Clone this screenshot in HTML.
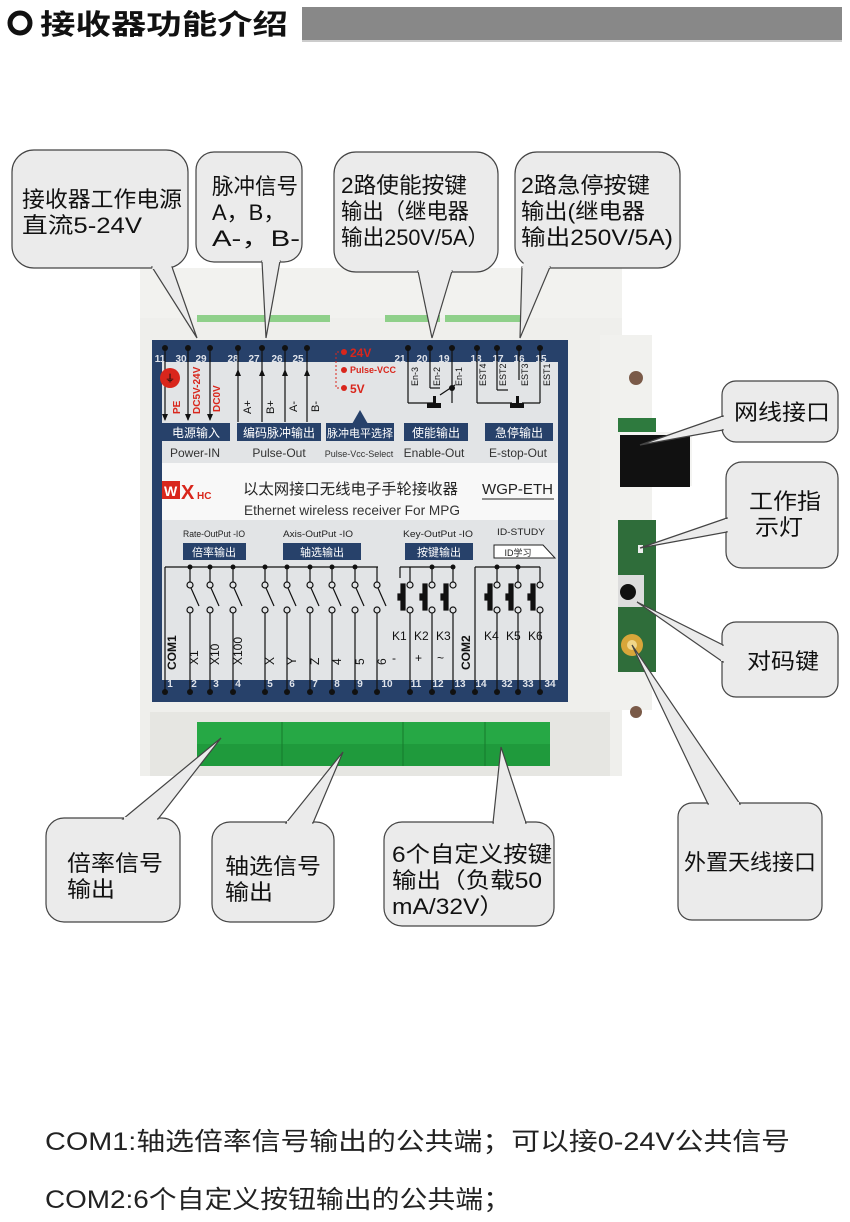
<!DOCTYPE html>
<html><head><meta charset="utf-8"><style>
html,body{margin:0;padding:0;background:#fff;}
svg{display:block;}
text{font-family:"Liberation Sans","Noto Sans CJK SC",sans-serif;}
</style></head><body>
<svg width="850" height="1222" viewBox="0 0 850 1222" xmlns="http://www.w3.org/2000/svg">
<!-- header -->
<circle cx="20" cy="23" r="10" fill="none" stroke="#111" stroke-width="5"/>
<text x="40" y="34" font-size="28" font-weight="bold" fill="#111" textLength="248" lengthAdjust="spacingAndGlyphs">接收器功能介绍</text>
<rect x="302" y="7" width="540" height="34" fill="#888"/>
<rect x="302" y="40" width="540" height="2" fill="#ccc"/>

<!-- housing -->
<rect x="140" y="268" width="482" height="508" fill="#efefec"/>
<rect x="140" y="268" width="482" height="50" fill="#f2f2ef"/>
<rect x="197" y="315" width="133" height="7" fill="#8fd08a"/>
<rect x="385" y="315" width="55" height="7" fill="#8fd08a"/>
<rect x="445" y="315" width="75" height="7" fill="#8fd08a"/>
<rect x="150" y="712" width="460" height="64" fill="#e6e6e2"/>
<rect x="197" y="722" width="353" height="44" fill="#1f9a3c"/>
<rect x="197" y="722" width="353" height="22" fill="#26a845"/>
<line x1="282" y1="722" x2="282" y2="766" stroke="#157a2c"/>
<line x1="403" y1="722" x2="403" y2="766" stroke="#157a2c"/>
<line x1="485" y1="722" x2="485" y2="766" stroke="#157a2c"/>
<!-- right ear -->
<rect x="600" y="335" width="52" height="375" fill="#f1f1ee"/>
<circle cx="636" cy="378" r="7" fill="#7a5a48"/>
<circle cx="636" cy="712" r="6" fill="#7a5a48"/>
<rect x="618" y="418" width="38" height="14" fill="#2e7a3e"/>
<rect x="620" y="432" width="72" height="54" fill="#f4f4f2"/>
<rect x="620" y="435" width="70" height="52" fill="#111"/>
<rect x="618" y="520" width="38" height="152" fill="#2f6d3a"/>
<rect x="618" y="575" width="26" height="32" fill="#ddd"/>
<circle cx="628" cy="592" r="8" fill="#111"/>
<circle cx="632" cy="645" r="11" fill="#d8a63a"/>
<circle cx="632" cy="645" r="5" fill="#f0d68a"/>
<rect x="638" y="545" width="5" height="8" fill="#eee"/>

<!-- blue panel -->
<rect x="152" y="340" width="416" height="362" fill="#27416a"/>
<rect x="162" y="362" width="396" height="318" fill="#e2e4e6"/>
<rect x="162" y="463" width="396" height="57" fill="#f8f8f8"/>

<!-- top pin dots & numbers -->
<g fill="#111">
<circle cx="165" cy="348" r="3"/><circle cx="188" cy="348" r="3"/><circle cx="210" cy="348" r="3"/>
<circle cx="238" cy="348" r="3"/><circle cx="262" cy="348" r="3"/><circle cx="285" cy="348" r="3"/><circle cx="307" cy="348" r="3"/>
<circle cx="408" cy="348" r="3"/><circle cx="430" cy="348" r="3"/><circle cx="452" cy="348" r="3"/>
<circle cx="477" cy="348" r="3"/><circle cx="497" cy="348" r="3"/><circle cx="519" cy="348" r="3"/><circle cx="540" cy="348" r="3"/>
</g>
<g fill="#dfe3ea" font-size="10" font-weight="bold" text-anchor="middle">
<text x="160" y="362">11</text><text x="181" y="362">30</text><text x="201" y="362">29</text>
<text x="233" y="362">28</text><text x="254" y="362">27</text><text x="277" y="362">26</text><text x="298" y="362">25</text>
<text x="400" y="362">21</text><text x="422" y="362">20</text><text x="444" y="362">19</text>
<text x="476" y="362">18</text><text x="498" y="362">17</text><text x="519" y="362">16</text><text x="541" y="362">15</text>
</g>
<g stroke="#111" stroke-width="1.2">
<line x1="165" y1="348" x2="165" y2="420"/><line x1="188" y1="348" x2="188" y2="420"/><line x1="210" y1="348" x2="210" y2="420"/>
<line x1="238" y1="348" x2="238" y2="422"/><line x1="262" y1="348" x2="262" y2="422"/><line x1="285" y1="348" x2="285" y2="422"/><line x1="307" y1="348" x2="307" y2="422"/>
<line x1="408" y1="348" x2="408" y2="403"/><line x1="408" y1="403" x2="433" y2="403"/>
<line x1="430" y1="348" x2="430" y2="388"/><line x1="430" y1="388" x2="440" y2="388"/>
<line x1="452" y1="348" x2="452" y2="403"/><line x1="440" y1="395" x2="455" y2="385"/>
<line x1="477" y1="348" x2="477" y2="403"/><line x1="477" y1="403" x2="512" y2="403"/>
<line x1="497" y1="348" x2="497" y2="390"/><line x1="497" y1="390" x2="508" y2="390"/>
<line x1="540" y1="348" x2="540" y2="403"/><line x1="522" y1="403" x2="540" y2="403"/>
<line x1="519" y1="348" x2="519" y2="380"/>
</g>
<rect x="427" y="403" width="14" height="5" fill="#111"/><rect x="433" y="396" width="3" height="8" fill="#111"/>
<rect x="510" y="403" width="14" height="5" fill="#111"/><rect x="516" y="396" width="3" height="8" fill="#111"/>
<circle cx="452" cy="388" r="3" fill="#111"/>
<g fill="#111">
<polygon points="162,414 168,414 165,421"/><polygon points="185,414 191,414 188,421"/><polygon points="207,414 213,414 210,421"/>
<polygon points="235,376 241,376 238,369"/><polygon points="259,376 265,376 262,369"/><polygon points="282,376 288,376 285,369"/><polygon points="304,376 310,376 307,369"/>
</g>
<circle cx="170" cy="378" r="10" fill="#d9261c"/>
<text x="170" y="382" font-size="10" fill="#111" text-anchor="middle" font-weight="bold">⏚</text>
<g font-size="10" font-weight="bold" fill="#d9261c">
<text transform="translate(180,414) rotate(-90)">PE</text>
<text transform="translate(200,414) rotate(-90)">DC5V-24V</text>
<text transform="translate(220,412) rotate(-90)">DC0V</text>
</g>
<g font-size="11" fill="#111">
<text transform="translate(251,414) rotate(-90)">A+</text>
<text transform="translate(274,414) rotate(-90)">B+</text>
<text transform="translate(297,412) rotate(-90)">A-</text>
<text transform="translate(319,412) rotate(-90)">B-</text>
<text transform="translate(418,386) rotate(-90)" font-size="9">En-3</text>
<text transform="translate(440,386) rotate(-90)" font-size="9">En-2</text>
<text transform="translate(462,386) rotate(-90)" font-size="9">En-1</text>
<text transform="translate(486,386) rotate(-90)" font-size="9">EST4</text>
<text transform="translate(506,386) rotate(-90)" font-size="9">EST2</text>
<text transform="translate(528,386) rotate(-90)" font-size="9">EST3</text>
<text transform="translate(550,386) rotate(-90)" font-size="9">EST1</text>
</g>
<polyline points="343,352 336,352 336,388 343,388" fill="none" stroke="#d9261c" stroke-dasharray="2,2"/>
<g fill="#d9261c"><circle cx="344" cy="352" r="3"/><circle cx="344" cy="370" r="3"/><circle cx="344" cy="388" r="3"/></g>
<g fill="#d9261c" font-weight="bold">
<text x="350" y="357" font-size="12">24V</text><text x="350" y="373" font-size="9">Pulse-VCC</text><text x="350" y="393" font-size="12">5V</text>
</g>
<polygon points="352,424 368,424 360,410" fill="#27416a"/>
<!-- label boxes -->
<g fill="#27416a">
<rect x="162" y="423" width="68" height="18"/><rect x="237" y="423" width="84" height="18"/>
<rect x="326" y="423" width="68" height="18"/><rect x="404" y="423" width="64" height="18"/><rect x="485" y="423" width="68" height="18"/>
</g>
<g fill="#fff" font-size="12" text-anchor="middle">
<text x="196" y="437">电源输入</text><text x="279" y="437">编码脉冲输出</text>
<text x="360" y="437" font-size="11">脉冲电平选择</text><text x="436" y="437">使能输出</text><text x="519" y="437">急停输出</text>
</g>
<g fill="#333" font-size="12" text-anchor="middle">
<text x="195" y="457">Power-IN</text><text x="279" y="457">Pulse-Out</text>
<text x="359" y="457" font-size="9">Pulse-Vcc-Select</text><text x="434" y="457">Enable-Out</text><text x="518" y="457">E-stop-Out</text>
</g>
<!-- logo band -->
<rect x="162" y="481" width="18" height="18" fill="#d9261c"/>
<text x="164" y="496" font-size="14" font-weight="bold" fill="#fff">W</text>
<text x="181" y="499" font-size="20" font-weight="bold" fill="#d9261c">X</text>
<text x="197" y="499" font-size="10" font-weight="bold" fill="#d9261c">HC</text>
<text x="243" y="494" font-size="15" fill="#222" textLength="215" lengthAdjust="spacingAndGlyphs">以太网接口无线电子手轮接收器</text>
<text x="244" y="515" font-size="14" fill="#333" textLength="216" lengthAdjust="spacingAndGlyphs">Ethernet wireless receiver For MPG</text>
<text x="482" y="494" font-size="15" fill="#222" textLength="71" lengthAdjust="spacingAndGlyphs">WGP-ETH</text>
<line x1="482" y1="499" x2="554" y2="499" stroke="#222"/>
<!-- lower labels -->
<g font-size="9" fill="#222">
<text x="183" y="537" textLength="62" lengthAdjust="spacingAndGlyphs">Rate-OutPut -IO</text>
<text x="283" y="537" textLength="70" lengthAdjust="spacingAndGlyphs">Axis-OutPut -IO</text>
<text x="403" y="537" textLength="70" lengthAdjust="spacingAndGlyphs">Key-OutPut -IO</text>
<text x="497" y="535" textLength="48" lengthAdjust="spacingAndGlyphs">ID-STUDY</text>
</g>
<g fill="#27416a"><rect x="183" y="543" width="63" height="17"/><rect x="283" y="543" width="78" height="17"/><rect x="405" y="543" width="68" height="17"/></g>
<g fill="#fff" font-size="11" text-anchor="middle"><text x="214" y="556">倍率输出</text><text x="322" y="556">轴选输出</text><text x="439" y="556">按键输出</text></g>
<path d="M494,545 H543 L555,558 H494 Z" fill="#fff" stroke="#222"/>
<text x="518" y="556" font-size="9" text-anchor="middle" fill="#222">ID学习</text>
<!-- switches -->
<g stroke="#111" stroke-width="1.2" fill="none">
<line x1="165" y1="567" x2="378" y2="567"/>
<line x1="165" y1="567" x2="165" y2="690"/>
<line x1="400" y1="567" x2="453" y2="567"/><line x1="400" y1="567" x2="400" y2="578"/>
<line x1="475" y1="567" x2="475" y2="690"/><line x1="475" y1="567" x2="540" y2="567"/>
</g>
<g id="sw" stroke="#111" stroke-width="1.2" fill="#e2e4e6">
<line x1="190" y1="567" x2="190" y2="582"/><circle cx="190" cy="585" r="3"/><line x1="191" y1="588" x2="199" y2="606"/><circle cx="190" cy="610" r="3"/><line x1="190" y1="613" x2="190" y2="690"/>
</g>
<use href="#sw" x="20"/><use href="#sw" x="43"/><use href="#sw" x="75"/><use href="#sw" x="97"/><use href="#sw" x="120"/><use href="#sw" x="142"/><use href="#sw" x="165"/><use href="#sw" x="187"/>
<g id="pb" stroke="#111" stroke-width="1.2" fill="#e2e4e6">
<line x1="410" y1="567" x2="410" y2="582"/><circle cx="410" cy="585" r="3"/><circle cx="410" cy="610" r="3"/><line x1="410" y1="613" x2="410" y2="690"/>
<rect x="401" y="584" width="4" height="26" fill="#111"/><rect x="398" y="594" width="3" height="6" fill="#111"/>
</g>
<use href="#pb" x="22"/><use href="#pb" x="43"/><use href="#pb" x="87"/><use href="#pb" x="108"/><use href="#pb" x="130"/>
<g fill="#111">
<circle cx="190" cy="567" r="2.5"/><circle cx="210" cy="567" r="2.5"/><circle cx="233" cy="567" r="2.5"/><circle cx="265" cy="567" r="2.5"/><circle cx="287" cy="567" r="2.5"/><circle cx="310" cy="567" r="2.5"/><circle cx="332" cy="567" r="2.5"/><circle cx="355" cy="567" r="2.5"/>
<circle cx="432" cy="567" r="2.5"/><circle cx="453" cy="567" r="2.5"/><circle cx="497" cy="567" r="2.5"/><circle cx="518" cy="567" r="2.5"/>
</g>
<g font-size="12" fill="#111">
<text transform="translate(176,670) rotate(-90)" font-weight="bold">COM1</text>
<text transform="translate(198,665) rotate(-90)">X1</text>
<text transform="translate(219,665) rotate(-90)">X10</text>
<text transform="translate(242,665) rotate(-90)">X100</text>
<text transform="translate(274,665) rotate(-90)">X</text>
<text transform="translate(296,665) rotate(-90)">Y</text>
<text transform="translate(319,665) rotate(-90)">Z</text>
<text transform="translate(341,665) rotate(-90)">4</text>
<text transform="translate(364,665) rotate(-90)">5</text>
<text transform="translate(386,665) rotate(-90)">6</text>
<text x="392" y="662">-</text><text x="415" y="662">+</text><text x="437" y="662">~</text>
<text transform="translate(470,670) rotate(-90)" font-weight="bold">COM2</text>
<text x="392" y="640">K1</text><text x="414" y="640">K2</text><text x="436" y="640">K3</text>
<text x="484" y="640">K4</text><text x="506" y="640">K5</text><text x="528" y="640">K6</text>
</g>
<g fill="#dfe3ea" font-size="10" font-weight="bold" text-anchor="middle">
<text x="170" y="687">1</text><text x="194" y="687">2</text><text x="216" y="687">3</text><text x="238" y="687">4</text>
<text x="270" y="687">5</text><text x="292" y="687">6</text><text x="315" y="687">7</text><text x="337" y="687">8</text><text x="360" y="687">9</text><text x="387" y="687">10</text>
<text x="416" y="687">11</text><text x="438" y="687">12</text><text x="460" y="687">13</text><text x="481" y="687">14</text>
<text x="507" y="687">32</text><text x="528" y="687">33</text><text x="550" y="687">34</text>
</g>
<g fill="#111">
<circle cx="165" cy="692" r="3"/><circle cx="190" cy="692" r="3"/><circle cx="210" cy="692" r="3"/><circle cx="233" cy="692" r="3"/><circle cx="265" cy="692" r="3"/><circle cx="287" cy="692" r="3"/><circle cx="310" cy="692" r="3"/><circle cx="332" cy="692" r="3"/><circle cx="355" cy="692" r="3"/><circle cx="377" cy="692" r="3"/>
<circle cx="410" cy="692" r="3"/><circle cx="432" cy="692" r="3"/><circle cx="453" cy="692" r="3"/><circle cx="475" cy="692" r="3"/><circle cx="497" cy="692" r="3"/><circle cx="518" cy="692" r="3"/><circle cx="540" cy="692" r="3"/>
</g>

<!-- callouts -->
<g fill="#ebebeb" stroke="#444" stroke-width="1.2">
<rect x="12" y="150" width="176" height="118" rx="22"/>
<rect x="196" y="152" width="106" height="110" rx="18"/>
<rect x="334" y="152" width="164" height="120" rx="22"/>
<rect x="515" y="152" width="165" height="116" rx="22"/>
<rect x="722" y="381" width="116" height="61" rx="14"/>
<rect x="726" y="462" width="112" height="106" rx="16"/>
<rect x="722" y="622" width="116" height="75" rx="14"/>
<rect x="678" y="803" width="144" height="117" rx="14"/>
<rect x="46" y="818" width="134" height="104" rx="18"/>
<rect x="212" y="822" width="122" height="100" rx="18"/>
<rect x="384" y="822" width="170" height="104" rx="18"/>
<polygon points="152,267 172,267 197,338"/>
<polygon points="262,261 280,261 266,338"/>
<polygon points="418,271 452,271 432,338"/>
<polygon points="522,267 550,267 520,338"/>
<polygon points="723,416 723,430 640,445"/>
<polygon points="727,518 727,532 640,548"/>
<polygon points="723,645 723,662 637,602"/>
<polygon points="708,804 740,804 632,645"/>
<polygon points="123,819 158,819 221,738"/>
<polygon points="286,823 313,823 343,752"/>
<polygon points="493,823 526,823 501,747"/>
</g>
<g fill="#ebebeb">
<polygon points="154,262 170,262 172,269 152,269"/>
<polygon points="263,255 279,255 280,262 262,262"/>
<polygon points="420,266 450,266 452,272 418,272"/>
<polygon points="524,262 548,262 550,268 522,268"/>
<rect x="721" y="417" width="4" height="12"/>
<rect x="725" y="519" width="4" height="12"/>
<rect x="721" y="646" width="4" height="15"/>
<rect x="709" y="802" width="30" height="4"/>
<rect x="124" y="817" width="33" height="4"/>
<rect x="287" y="821" width="25" height="4"/>
<rect x="494" y="821" width="31" height="4"/>
</g>
<g fill="#111" font-size="22">
<text x="22" y="207" textLength="160" lengthAdjust="spacingAndGlyphs">接收器工作电源</text>
<text x="22" y="233" textLength="120" lengthAdjust="spacingAndGlyphs">直流5-24V</text>
<text x="212" y="194" textLength="86" lengthAdjust="spacingAndGlyphs">脉冲信号</text>
<text x="212" y="220">A，B，</text>
<text x="212" y="246" textLength="88" lengthAdjust="spacingAndGlyphs">A-，B-</text>
<text x="341" y="193" textLength="126" lengthAdjust="spacingAndGlyphs">2路使能按键</text>
<text x="341" y="219" textLength="128" lengthAdjust="spacingAndGlyphs">输出（继电器</text>
<text x="341" y="245" textLength="148" lengthAdjust="spacingAndGlyphs">输出250V/5A）</text>
<text x="521" y="193" textLength="129" lengthAdjust="spacingAndGlyphs">2路急停按键</text>
<text x="521" y="219" textLength="124" lengthAdjust="spacingAndGlyphs">输出(继电器</text>
<text x="521" y="245" textLength="152" lengthAdjust="spacingAndGlyphs">输出250V/5A)</text>
<text x="734" y="420" textLength="96" lengthAdjust="spacingAndGlyphs">网线接口</text>
<text x="749" y="509" textLength="72" lengthAdjust="spacingAndGlyphs">工作指</text>
<text x="755" y="535" textLength="48" lengthAdjust="spacingAndGlyphs">示灯</text>
<text x="747" y="669" textLength="72" lengthAdjust="spacingAndGlyphs">对码键</text>
<text x="684" y="870" textLength="132" lengthAdjust="spacingAndGlyphs">外置天线接口</text>
<text x="67" y="871" textLength="96" lengthAdjust="spacingAndGlyphs">倍率信号</text>
<text x="67" y="897" textLength="48" lengthAdjust="spacingAndGlyphs">输出</text>
<text x="225" y="874" textLength="96" lengthAdjust="spacingAndGlyphs">轴选信号</text>
<text x="225" y="900" textLength="48" lengthAdjust="spacingAndGlyphs">输出</text>
<text x="392" y="862" textLength="160" lengthAdjust="spacingAndGlyphs">6个自定义按键</text>
<text x="392" y="888" textLength="150" lengthAdjust="spacingAndGlyphs">输出（负载50</text>
<text x="392" y="914" textLength="112" lengthAdjust="spacingAndGlyphs">mA/32V）</text>
</g>
<!-- bottom notes -->
<g fill="#222" font-size="25">
<text x="45" y="1150" textLength="745" lengthAdjust="spacingAndGlyphs">COM1:轴选倍率信号输出的公共端；可以接0-24V公共信号</text>
<text x="45" y="1208" textLength="466" lengthAdjust="spacingAndGlyphs">COM2:6个自定义按钮输出的公共端；</text>
</g>
</svg>
</body></html>
